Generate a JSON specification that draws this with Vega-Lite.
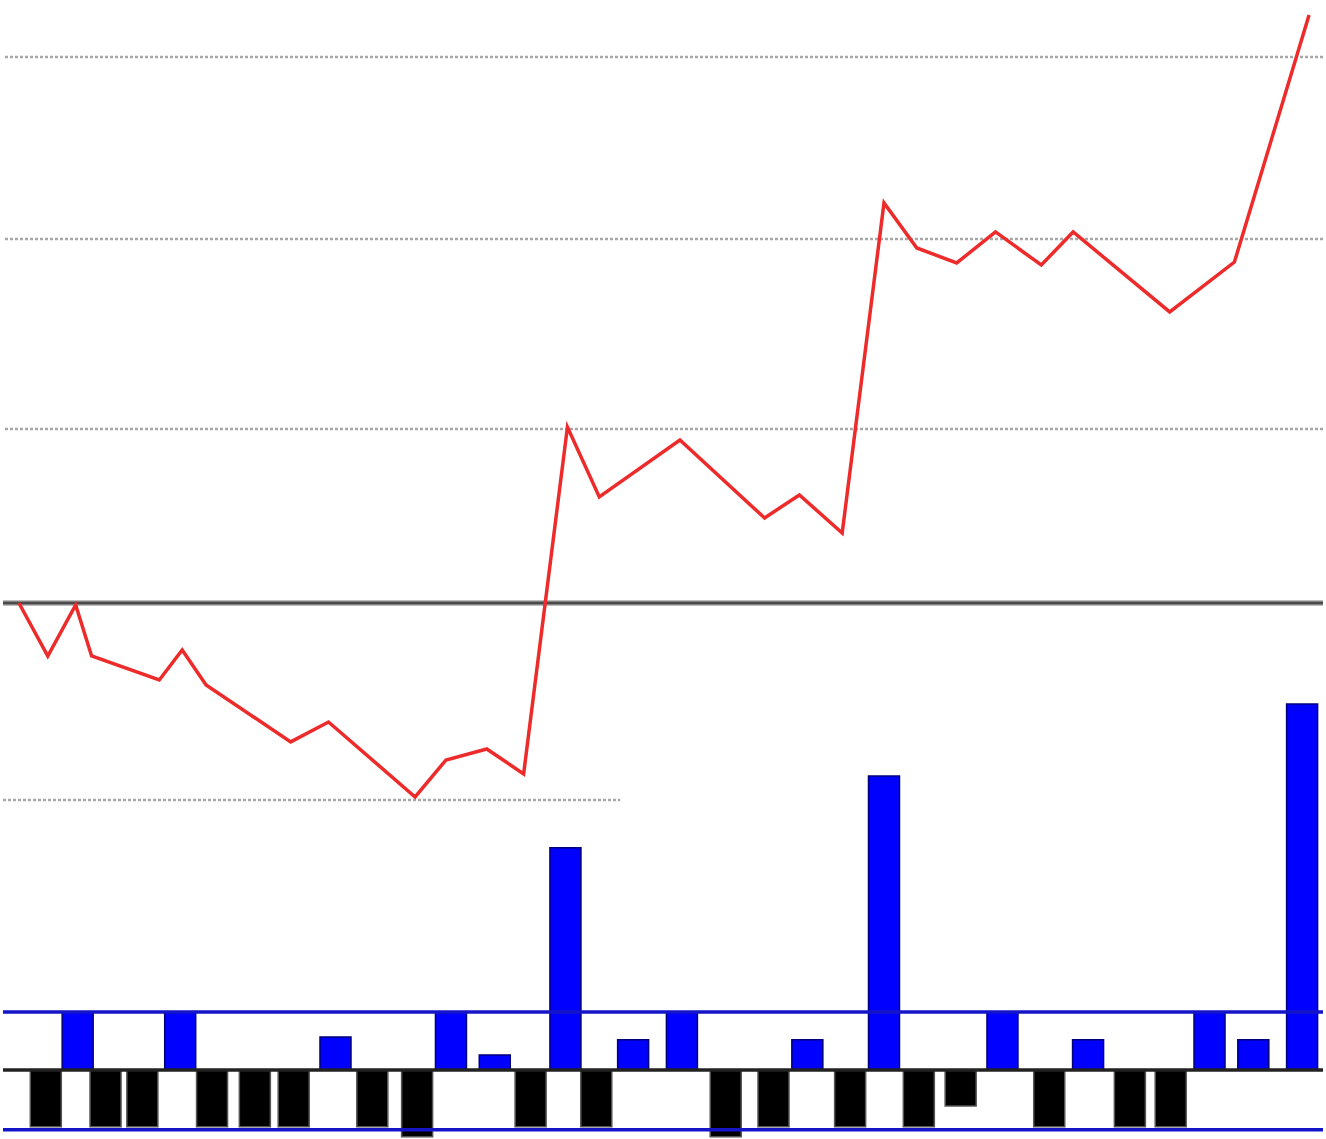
{
  "$schema": "https://vega.github.io/schema/vega-lite/v6.json",
  "width": 1326,
  "height": 1139,
  "autosize": {"type": "fit", "contains": "padding"},
  "padding": 0,
  "background": "#ffffff",
  "config": {"view": {"stroke": null}, "scale": {"continuousPadding": 0}},
  "datasets": {
    "line": [
      {"t": 16, "v": 0.0}, {"t": 45, "v": -2.85}, {"t": 73, "v": -0.11}, {"t": 89, "v": -2.85},
      {"t": 157, "v": -4.14}, {"t": 180, "v": -2.53}, {"t": 204, "v": -4.41}, {"t": 289, "v": -7.47},
      {"t": 327, "v": -6.4}, {"t": 414, "v": -10.43}, {"t": 445, "v": -8.44}, {"t": 486, "v": -7.85},
      {"t": 523, "v": -9.19}, {"t": 567, "v": 9.46}, {"t": 599, "v": 5.7}, {"t": 680, "v": 8.76},
      {"t": 765, "v": 4.57}, {"t": 800, "v": 5.81}, {"t": 843, "v": 3.76}, {"t": 885, "v": 21.51},
      {"t": 918, "v": 19.09}, {"t": 958, "v": 18.28}, {"t": 997, "v": 19.95}, {"t": 1043, "v": 18.17},
      {"t": 1075, "v": 19.95}, {"t": 1172, "v": 15.65}, {"t": 1237, "v": 18.33}, {"t": 1312, "v": 31.61}
    ],
    "bars": [
      {"t": 43, "b": -0.98}, {"t": 75, "b": 1}, {"t": 103, "b": -0.98}, {"t": 140, "b": -0.98},
      {"t": 178, "b": 1}, {"t": 210, "b": -0.98}, {"t": 253, "b": -0.98}, {"t": 292, "b": -0.98},
      {"t": 334, "b": 0.57}, {"t": 371, "b": -0.98}, {"t": 416, "b": -1.15}, {"t": 450, "b": 1},
      {"t": 494, "b": 0.26}, {"t": 530, "b": -0.98}, {"t": 565, "b": 3.83}, {"t": 596, "b": -0.98},
      {"t": 633, "b": 0.52}, {"t": 682, "b": 1}, {"t": 726, "b": -1.15}, {"t": 774, "b": -0.98},
      {"t": 808, "b": 0.52}, {"t": 851, "b": -0.98}, {"t": 885, "b": 5.07}, {"t": 920, "b": -0.98},
      {"t": 962, "b": -0.62}, {"t": 1004, "b": 1}, {"t": 1051, "b": -0.98}, {"t": 1090, "b": 0.52},
      {"t": 1132, "b": -0.98}, {"t": 1173, "b": -0.98}, {"t": 1212, "b": 1}, {"t": 1256, "b": 0.52},
      {"t": 1305, "b": 6.31}
    ],
    "grid": [{"v": 29.35}, {"v": 19.57}, {"v": 9.35}],
    "gridPartial": [{"v": -10.59, "t0": 0, "t1": 620}],
    "zero": [{"v": 0}],
    "barLevels": [{"b": 1}, {"b": -1.03}],
    "barZero": [{"b": 0}]
  },
  "layer": [
    {
      "data": {"name": "grid"},
      "mark": {"type": "rule", "stroke": "#a8a8a8", "strokeWidth": 2.5, "strokeDash": [3, 2]},
      "encoding": {
        "y": {"field": "v", "type": "quantitative", "scale": {"domain": [-28.82, 32.42], "nice": false, "zero": false}, "axis": null}
      }
    },
    {
      "data": {"name": "gridPartial"},
      "mark": {"type": "rule", "stroke": "#a8a8a8", "strokeWidth": 2.5, "strokeDash": [3, 2]},
      "encoding": {
        "x": {"field": "t0", "type": "quantitative", "scale": {"domain": [0, 1326], "nice": false, "zero": false, "padding": 0}, "axis": null},
        "x2": {"field": "t1"},
        "y": {"field": "v", "type": "quantitative", "scale": {"domain": [-28.82, 32.42], "nice": false, "zero": false}, "axis": null}
      }
    },
    {
      "data": {"name": "zero"},
      "mark": {"type": "rule", "stroke": "#bdbdbd", "strokeWidth": 6},
      "encoding": {
        "y": {"field": "v", "type": "quantitative", "scale": {"domain": [-28.82, 32.42], "nice": false, "zero": false}, "axis": null}
      }
    },
    {
      "data": {"name": "zero"},
      "mark": {"type": "rule", "stroke": "#4a4a4a", "strokeWidth": 3},
      "encoding": {
        "y": {"field": "v", "type": "quantitative", "scale": {"domain": [-28.82, 32.42], "nice": false, "zero": false}, "axis": null}
      }
    },
    {
      "data": {"name": "bars"},
      "mark": {"type": "bar", "size": 31, "strokeWidth": 1.5},
      "encoding": {
        "x": {"field": "t", "type": "quantitative", "scale": {"domain": [0, 1326], "nice": false, "zero": false, "padding": 0}, "axis": null},
        "y": {"field": "b", "type": "quantitative", "scale": {"domain": [-1.19, 18.45], "nice": false, "padding": 0}, "axis": null},
        "color": {"condition": {"test": "datum.b > 0", "value": "#0000ff"}, "value": "#000000"},
        "stroke": {"condition": {"test": "datum.b > 0", "value": "#00007a"}, "value": "#555555"}
      }
    },
    {
      "data": {"name": "barLevels"},
      "mark": {"type": "rule", "stroke": "#1414c8", "strokeWidth": 3.5},
      "encoding": {
        "y": {"field": "b", "type": "quantitative", "scale": {"domain": [-1.19, 18.45], "nice": false, "zero": false}, "axis": null}
      }
    },
    {
      "data": {"name": "barZero"},
      "mark": {"type": "rule", "stroke": "#222222", "strokeWidth": 3.5},
      "encoding": {
        "y": {"field": "b", "type": "quantitative", "scale": {"domain": [-1.19, 18.45], "nice": false, "zero": false}, "axis": null}
      }
    },
    {
      "data": {"name": "line"},
      "mark": {"type": "line", "stroke": "#ee2b2b", "strokeWidth": 3.5, "strokeJoin": "miter"},
      "encoding": {
        "x": {"field": "t", "type": "quantitative", "scale": {"domain": [0, 1326], "nice": false, "zero": false, "padding": 0}, "axis": null},
        "y": {"field": "v", "type": "quantitative", "scale": {"domain": [-28.82, 32.42], "nice": false, "zero": false}, "axis": null}
      }
    }
  ],
  "resolve": {"scale": {"y": "independent", "x": "shared"}}
}
